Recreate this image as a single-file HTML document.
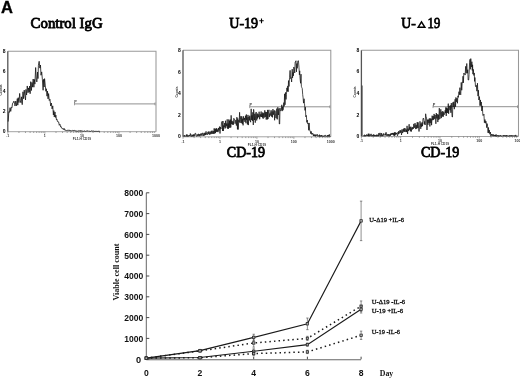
<!DOCTYPE html>
<html><head><meta charset="utf-8"><style>
html,body{margin:0;padding:0;background:#fff;width:520px;height:379px;overflow:hidden}
svg{display:block;font-family:"Liberation Serif",serif;will-change:transform}
</style></head><body>
<svg width="520" height="379" viewBox="0 0 520 379">
<rect width="520" height="379" fill="#fff"/>
<path d="M7.8,51.2 H156.0 V131.7" stroke="#999" stroke-width="1.05" fill="none"/>
<path d="M7.8,131.7 H156.0" stroke="#999" stroke-width="0.9" fill="none"/>
<path d="M7.8,51.2 V131.7" stroke="#555" stroke-width="1.3" fill="none"/>
<path d="M7.80,131.7 v2.0 M18.95,131.7 v1.3 M25.48,131.7 v1.3 M30.11,131.7 v1.3 M33.70,131.7 v1.3 M36.63,131.7 v1.3 M39.11,131.7 v1.3 M41.26,131.7 v1.3 M43.15,131.7 v1.3 M44.85,131.7 v2.0 M56.00,131.7 v1.3 M62.53,131.7 v1.3 M67.16,131.7 v1.3 M70.75,131.7 v1.3 M73.68,131.7 v1.3 M76.16,131.7 v1.3 M78.31,131.7 v1.3 M80.20,131.7 v1.3 M81.90,131.7 v2.0 M93.05,131.7 v1.3 M99.58,131.7 v1.3 M104.21,131.7 v1.3 M107.80,131.7 v1.3 M110.73,131.7 v1.3 M113.21,131.7 v1.3 M115.36,131.7 v1.3 M117.25,131.7 v1.3 M118.95,131.7 v2.0 M130.10,131.7 v1.3 M136.63,131.7 v1.3 M141.26,131.7 v1.3 M144.85,131.7 v1.3 M147.78,131.7 v1.3 M150.26,131.7 v1.3 M152.41,131.7 v1.3 M154.30,131.7 v1.3" stroke="#666" stroke-width="0.6" fill="none"/>
<text x="7.80" y="136.90" font-family="Liberation Sans" font-weight="bold" font-size="3.6" text-anchor="middle" fill="#333">.1</text>
<text x="44.85" y="136.90" font-family="Liberation Sans" font-weight="bold" font-size="3.6" text-anchor="middle" fill="#333">1</text>
<text x="81.90" y="136.90" font-family="Liberation Sans" font-weight="bold" font-size="3.6" text-anchor="middle" fill="#333">10</text>
<text x="118.95" y="136.90" font-family="Liberation Sans" font-weight="bold" font-size="3.6" text-anchor="middle" fill="#333">100</text>
<text x="156.00" y="136.90" font-family="Liberation Sans" font-weight="bold" font-size="3.6" text-anchor="middle" fill="#333">1000</text>
<text x="81.90" y="140.00" font-family="Liberation Sans" font-weight="bold" font-size="3.2" text-anchor="middle" fill="#333">FL1-H CD19</text>
<path d="M74.5,103.9 H155.0" stroke="#555" stroke-width="0.65" fill="none"/>
<path d="M74.5,102.5 v2.8 M155.0,102.5 v2.8" stroke="#666" stroke-width="0.6" fill="none"/>
<text x="74.3" y="102.7" font-family="Liberation Sans" font-weight="bold" font-size="3.8" fill="#444">P</text>
<path d="M8.20,121.59 L8.84,111.71 L9.35,112.38 L10.07,107.70 L10.72,111.42 L11.38,107.10 L11.91,107.70 L12.59,103.26 L13.15,102.99 L13.89,101.11 L14.46,102.35 L15.02,106.02 L15.77,101.03 L16.55,105.80 L17.31,98.60 L17.81,105.13 L18.25,97.68 L18.96,102.55 L19.66,93.43 L20.34,100.87 L20.94,102.74 L21.57,96.84 L22.21,104.67 L22.98,91.81 L23.59,98.72 L24.23,90.12 L24.91,95.71 L25.52,99.99 L25.94,89.45 L26.59,94.97 L27.26,85.96 L28.03,92.75 L28.57,87.93 L29.20,92.07 L29.63,86.07 L30.13,93.71 L30.71,81.66 L31.43,90.51 L31.97,82.44 L32.47,87.11 L33.18,79.01 L33.89,87.23 L34.36,79.44 L34.90,84.14 L35.65,67.55 L36.43,81.23 L36.93,81.94 L37.53,72.06 L37.98,78.58 L38.42,65.22 L39.16,61.30 L39.85,68.12 L40.46,64.99 L41.00,75.22 L41.70,71.90 L42.41,79.83 L43.12,90.25 L43.56,79.34 L44.13,86.99 L44.57,78.64 L45.30,85.92 L45.84,91.29 L46.39,88.78 L47.01,96.16 L47.49,91.14 L48.05,98.87 L48.60,93.59 L49.27,100.51 L49.94,99.24 L50.68,106.04 L51.38,103.03 L52.09,108.91 L52.75,105.90 L53.39,114.93 L53.84,110.60 L54.27,116.95 L54.99,111.96 L55.42,117.45 L55.88,115.17 L56.42,119.66 L56.90,119.03 L57.46,121.57 L58.03,121.54 L58.60,121.85 L59.30,125.25 L59.95,124.24 L60.70,126.99 L61.18,126.59 L61.72,127.91 L62.24,128.84 L62.87,128.66 L63.47,129.53 L64.00,128.24 L64.64,130.07 L65.26,129.66 L65.82,130.66 L66.33,130.04 L67.09,130.79 L67.60,130.15 L68.35,130.58 L68.92,129.82 L69.44,130.70 L69.87,130.24 L70.36,130.86 L70.98,130.42 L71.44,131.07 L72.20,130.38 L72.72,131.03 L73.24,130.26 L73.85,130.84 L74.53,130.37 L75.18,131.13 L75.84,130.68 L76.38,131.22 L77.03,130.60 L77.48,131.27 L78.16,130.69 L78.90,131.02 L79.59,130.73 L80.21,131.36 L80.67,130.44 L81.35,131.14 L82.04,130.60 L82.51,131.25 L83.14,130.88 L83.57,131.40 L84.13,131.35 L84.90,130.73 L85.49,131.40 L86.19,130.77 L86.77,131.27 L87.37,130.81 L88.14,131.40 L88.58,130.95 L89.19,131.40 L89.86,131.08 L90.62,131.40 L91.33,130.80 L92.02,131.40 L92.51,131.12 L93.12,131.40 L93.71,130.92 L94.46,131.40 L95.07,131.01 L95.56,131.40 L96.06,131.19 L96.49,131.40 L96.93,131.26 L97.60,131.40 L98.03,130.93 L98.62,131.40 L99.09,131.30 L99.79,131.40" stroke="#111" stroke-width="0.8" fill="none" stroke-linejoin="miter"/>
<text x="5.60" y="133.30" font-family="Liberation Sans" font-weight="bold" font-size="5" text-anchor="end" fill="#000">0</text>
<text x="5.60" y="113.17" font-family="Liberation Sans" font-weight="bold" font-size="5" text-anchor="end" fill="#000">2</text>
<text x="5.60" y="93.05" font-family="Liberation Sans" font-weight="bold" font-size="5" text-anchor="end" fill="#000">4</text>
<text x="5.60" y="72.92" font-family="Liberation Sans" font-weight="bold" font-size="5" text-anchor="end" fill="#000">6</text>
<text x="5.60" y="52.80" font-family="Liberation Sans" font-weight="bold" font-size="5" text-anchor="end" fill="#000">8</text>
<text transform="translate(2.30,95.45) rotate(-90)" font-family="Liberation Sans" font-weight="bold" font-size="3.2" fill="#444">Counts</text>
<path d="M183.0,50.3 H330.8 V136.8" stroke="#999" stroke-width="1.05" fill="none"/>
<path d="M183.0,136.8 H330.8" stroke="#999" stroke-width="0.9" fill="none"/>
<path d="M183.0,50.3 V136.8" stroke="#555" stroke-width="1.3" fill="none"/>
<path d="M183.00,136.8 v2.0 M194.12,136.8 v1.3 M200.63,136.8 v1.3 M205.25,136.8 v1.3 M208.83,136.8 v1.3 M211.75,136.8 v1.3 M214.23,136.8 v1.3 M216.37,136.8 v1.3 M218.26,136.8 v1.3 M219.95,136.8 v2.0 M231.07,136.8 v1.3 M237.58,136.8 v1.3 M242.20,136.8 v1.3 M245.78,136.8 v1.3 M248.70,136.8 v1.3 M251.18,136.8 v1.3 M253.32,136.8 v1.3 M255.21,136.8 v1.3 M256.90,136.8 v2.0 M268.02,136.8 v1.3 M274.53,136.8 v1.3 M279.15,136.8 v1.3 M282.73,136.8 v1.3 M285.65,136.8 v1.3 M288.13,136.8 v1.3 M290.27,136.8 v1.3 M292.16,136.8 v1.3 M293.85,136.8 v2.0 M304.97,136.8 v1.3 M311.48,136.8 v1.3 M316.10,136.8 v1.3 M319.68,136.8 v1.3 M322.60,136.8 v1.3 M325.08,136.8 v1.3 M327.22,136.8 v1.3 M329.11,136.8 v1.3" stroke="#666" stroke-width="0.6" fill="none"/>
<text x="183.00" y="142.50" font-family="Liberation Sans" font-weight="bold" font-size="3.6" text-anchor="middle" fill="#333">.1</text>
<text x="219.95" y="142.50" font-family="Liberation Sans" font-weight="bold" font-size="3.6" text-anchor="middle" fill="#333">1</text>
<text x="256.90" y="142.50" font-family="Liberation Sans" font-weight="bold" font-size="3.6" text-anchor="middle" fill="#333">10</text>
<text x="293.85" y="142.50" font-family="Liberation Sans" font-weight="bold" font-size="3.6" text-anchor="middle" fill="#333">100</text>
<text x="330.80" y="142.50" font-family="Liberation Sans" font-weight="bold" font-size="3.6" text-anchor="middle" fill="#333">1000</text>
<text x="256.90" y="145.60" font-family="Liberation Sans" font-weight="bold" font-size="3.2" text-anchor="middle" fill="#333">FL1-H CD19</text>
<path d="M249.7,106.8 H329.8" stroke="#555" stroke-width="0.65" fill="none"/>
<path d="M249.7,105.39999999999999 v2.8 M329.8,105.39999999999999 v2.8" stroke="#666" stroke-width="0.6" fill="none"/>
<text x="249.5" y="105.6" font-family="Liberation Sans" font-weight="bold" font-size="3.8" fill="#444">P</text>
<path d="M183.70,136.50 L184.27,135.00 L184.71,136.50 L185.06,136.50 L185.53,135.71 L186.09,136.50 L186.44,134.59 L186.81,136.28 L187.21,134.59 L187.58,136.50 L188.13,136.32 L188.49,135.51 L188.80,136.50 L189.34,135.00 L189.84,135.98 L190.36,133.52 L190.83,136.50 L191.20,136.50 L191.61,136.25 L191.95,134.56 L192.28,136.50 L192.84,134.96 L193.24,136.11 L193.59,134.47 L193.92,136.50 L194.30,134.51 L194.73,135.68 L195.18,133.09 L195.66,133.37 L196.21,135.85 L196.75,136.50 L197.26,134.35 L197.62,135.85 L198.10,135.97 L198.49,133.83 L199.02,136.26 L199.54,134.25 L199.99,136.16 L200.56,133.68 L201.02,135.32 L201.55,133.49 L202.04,135.86 L202.59,132.97 L203.16,133.37 L203.70,135.96 L204.21,132.85 L204.68,135.43 L205.20,132.80 L205.56,134.97 L206.06,131.36 L206.39,134.36 L206.76,133.44 L207.24,134.95 L207.56,134.59 L207.90,131.86 L208.38,133.92 L208.85,131.40 L209.39,134.69 L209.86,131.84 L210.34,132.11 L210.69,134.34 L211.17,130.92 L211.55,133.69 L212.12,130.63 L212.70,133.88 L213.28,131.08 L213.63,133.81 L214.16,128.37 L214.73,133.66 L215.08,128.76 L215.53,133.00 L215.87,128.71 L216.28,131.82 L216.69,128.18 L217.07,131.85 L217.54,129.54 L218.01,132.13 L218.57,127.99 L218.94,130.63 L219.48,126.60 L220.00,133.50 L220.45,127.08 L220.99,129.05 L221.51,122.32 L222.10,121.39 L222.59,130.96 L222.98,121.02 L223.34,131.03 L223.68,125.52 L224.23,127.02 L224.70,123.01 L225.03,128.54 L225.49,120.75 L225.87,127.70 L226.33,123.53 L226.84,126.03 L227.18,119.39 L227.56,128.66 L228.09,123.48 L228.44,128.80 L228.79,119.45 L229.14,127.32 L229.55,120.73 L229.90,127.98 L230.33,119.57 L230.80,127.38 L231.13,115.35 L231.65,124.16 L232.13,120.85 L232.48,124.57 L233.04,121.68 L233.40,124.79 L233.72,118.30 L234.22,119.16 L234.57,119.06 L235.08,123.73 L235.46,121.18 L235.87,120.08 L236.38,125.55 L236.88,117.18 L237.46,129.34 L237.78,118.48 L238.19,129.55 L238.76,120.17 L239.18,121.94 L239.58,112.30 L240.03,123.04 L240.43,119.38 L240.91,116.15 L241.37,122.92 L241.85,116.36 L242.29,123.98 L242.69,118.67 L243.09,125.35 L243.52,116.39 L244.02,120.20 L244.44,118.02 L244.96,121.95 L245.48,115.72 L245.97,123.23 L246.36,114.48 L246.69,119.85 L247.08,117.37 L247.41,124.45 L247.98,114.92 L248.39,125.09 L248.90,116.82 L249.41,120.35 L249.75,115.72 L250.19,120.15 L250.64,122.20 L251.18,108.84 L251.65,119.98 L252.02,115.35 L252.44,120.89 L252.82,112.29 L253.30,124.94 L253.62,109.34 L253.99,112.87 L254.54,120.03 L254.86,113.91 L255.28,122.66 L255.72,113.01 L256.26,112.03 L256.72,120.43 L257.22,113.53 L257.55,118.51 L258.06,114.29 L258.57,117.20 L259.14,111.73 L259.66,119.25 L260.22,114.28 L260.64,116.66 L261.13,111.50 L261.55,117.01 L262.06,113.55 L262.45,117.57 L262.81,112.43 L263.15,118.73 L263.66,113.23 L264.22,117.55 L264.79,110.30 L265.27,116.97 L265.76,111.92 L266.21,119.54 L266.75,112.01 L267.25,119.47 L267.62,109.90 L267.96,119.06 L268.50,111.57 L268.98,109.80 L269.35,117.08 L269.87,113.54 L270.28,115.62 L270.78,111.46 L271.12,110.24 L271.46,116.58 L272.03,111.39 L272.53,117.38 L272.93,109.09 L273.36,114.77 L273.75,111.80 L274.21,110.42 L274.62,120.27 L274.94,110.67 L275.40,113.19 L275.83,117.97 L276.33,118.23 L276.77,108.63 L277.25,119.35 L277.80,107.31 L278.39,115.00 L278.91,108.57 L279.29,124.00 L279.68,124.00 L280.01,108.04 L280.38,110.76 L280.86,110.79 L281.43,109.83 L281.81,104.82 L282.17,111.12 L282.51,106.79 L282.92,110.24 L283.30,109.21 L283.82,102.65 L284.13,106.39 L284.61,93.82 L285.03,104.81 L285.52,92.41 L286.03,99.42 L286.43,94.68 L286.86,87.87 L287.43,91.35 L287.78,85.90 L288.15,91.75 L288.51,80.58 L289.03,86.46 L289.52,77.82 L289.90,70.50 L290.27,70.50 L290.58,78.54 L291.13,77.50 L291.64,82.00 L292.21,69.20 L292.55,77.94 L293.06,72.37 L293.41,75.82 L293.72,66.99 L294.16,67.73 L294.73,72.99 L295.16,62.00 L295.51,62.00 L295.98,60.74 L296.44,71.88 L296.87,63.59 L297.22,68.30 L297.60,62.13 L297.95,60.80 L298.43,60.80 L299.01,67.67 L299.40,74.86 L299.73,70.82 L300.06,78.12 L300.59,83.27 L301.02,74.15 L301.36,86.27 L301.80,87.60 L302.26,88.52 L302.70,94.65 L303.13,97.96 L303.54,103.16 L304.08,98.75 L304.52,103.57 L304.97,110.38 L305.41,107.23 L305.78,116.80 L306.37,115.45 L306.80,122.37 L307.30,120.08 L307.72,123.88 L308.24,123.16 L308.68,130.26 L309.09,122.95 L309.67,130.42 L310.18,130.73 L310.72,133.68 L311.22,131.41 L311.73,134.38 L312.18,133.07 L312.72,134.27 L313.07,133.70 L313.45,136.05 L313.93,134.49 L314.43,136.07 L314.86,134.56 L315.34,136.41 L315.67,134.76 L316.00,135.59 L316.44,134.69 L316.89,135.74 L317.38,134.40 L317.92,136.50 L318.29,136.00 L318.70,135.50 L319.13,136.38 L319.49,134.70 L319.87,136.50 L320.19,135.34 L320.74,136.50 L321.30,135.01 L321.79,136.50 L322.16,135.52 L322.68,136.43 L323.10,135.78 L323.45,136.50 L323.79,135.88 L324.33,135.56 L324.69,136.50 L325.13,135.09 L325.61,135.37 L326.05,136.50 L326.58,135.87 L327.08,136.50 L327.48,135.09 L327.98,136.46 L328.46,135.05 L328.92,136.50 L329.31,134.35 L329.70,136.45 L330.09,136.47 L330.43,136.50" stroke="#111" stroke-width="0.75" fill="none" stroke-linejoin="miter"/>
<text x="180.80" y="138.40" font-family="Liberation Sans" font-weight="bold" font-size="5" text-anchor="end" fill="#000">0</text>
<text x="180.80" y="116.78" font-family="Liberation Sans" font-weight="bold" font-size="5" text-anchor="end" fill="#000">2</text>
<text x="180.80" y="95.15" font-family="Liberation Sans" font-weight="bold" font-size="5" text-anchor="end" fill="#000">4</text>
<text x="180.80" y="73.52" font-family="Liberation Sans" font-weight="bold" font-size="5" text-anchor="end" fill="#000">6</text>
<text x="180.80" y="51.90" font-family="Liberation Sans" font-weight="bold" font-size="5" text-anchor="end" fill="#000">8</text>
<text transform="translate(177.50,97.55) rotate(-90)" font-family="Liberation Sans" font-weight="bold" font-size="3.2" fill="#444">Counts</text>
<path d="M361.4,50.3 H518.5 V136.5" stroke="#999" stroke-width="1.05" fill="none"/>
<path d="M361.4,136.5 H518.5" stroke="#999" stroke-width="0.9" fill="none"/>
<path d="M361.4,50.3 V136.5" stroke="#555" stroke-width="1.3" fill="none"/>
<path d="M361.40,136.5 v2.0 M373.22,136.5 v1.3 M380.14,136.5 v1.3 M385.05,136.5 v1.3 M388.85,136.5 v1.3 M391.96,136.5 v1.3 M394.59,136.5 v1.3 M396.87,136.5 v1.3 M398.88,136.5 v1.3 M400.67,136.5 v2.0 M412.50,136.5 v1.3 M419.41,136.5 v1.3 M424.32,136.5 v1.3 M428.13,136.5 v1.3 M431.24,136.5 v1.3 M433.87,136.5 v1.3 M436.14,136.5 v1.3 M438.15,136.5 v1.3 M439.95,136.5 v2.0 M451.77,136.5 v1.3 M458.69,136.5 v1.3 M463.60,136.5 v1.3 M467.40,136.5 v1.3 M470.51,136.5 v1.3 M473.14,136.5 v1.3 M475.42,136.5 v1.3 M477.43,136.5 v1.3 M479.23,136.5 v2.0 M491.05,136.5 v1.3 M497.96,136.5 v1.3 M502.87,136.5 v1.3 M506.68,136.5 v1.3 M509.79,136.5 v1.3 M512.42,136.5 v1.3 M514.69,136.5 v1.3 M516.70,136.5 v1.3" stroke="#666" stroke-width="0.6" fill="none"/>
<text x="361.40" y="142.20" font-family="Liberation Sans" font-weight="bold" font-size="3.6" text-anchor="middle" fill="#333">.1</text>
<text x="400.67" y="142.20" font-family="Liberation Sans" font-weight="bold" font-size="3.6" text-anchor="middle" fill="#333">1</text>
<text x="439.95" y="142.20" font-family="Liberation Sans" font-weight="bold" font-size="3.6" text-anchor="middle" fill="#333">10</text>
<text x="479.23" y="142.20" font-family="Liberation Sans" font-weight="bold" font-size="3.6" text-anchor="middle" fill="#333">100</text>
<text x="518.50" y="142.20" font-family="Liberation Sans" font-weight="bold" font-size="3.6" text-anchor="middle" fill="#333">1000</text>
<text x="439.95" y="145.30" font-family="Liberation Sans" font-weight="bold" font-size="3.2" text-anchor="middle" fill="#333">FL1-H CD19</text>
<path d="M433.0,106.7 H517.5" stroke="#555" stroke-width="0.65" fill="none"/>
<path d="M433.0,105.3 v2.8 M517.5,105.3 v2.8" stroke="#666" stroke-width="0.6" fill="none"/>
<text x="432.8" y="105.5" font-family="Liberation Sans" font-weight="bold" font-size="3.8" fill="#444">P</text>
<path d="M363.20,136.20 L363.75,135.49 L364.09,136.20 L364.50,134.73 L364.86,136.20 L365.33,136.20 L365.68,135.14 L366.11,135.91 L366.50,134.56 L367.05,135.86 L367.37,134.95 L367.85,135.91 L368.22,133.75 L368.55,136.20 L368.98,133.69 L369.46,136.20 L369.81,135.06 L370.16,134.57 L370.64,135.76 L371.11,133.85 L371.59,136.19 L372.06,135.70 L372.49,135.05 L372.83,136.20 L373.35,134.36 L373.74,136.20 L374.31,134.79 L374.73,136.20 L375.11,135.16 L375.68,136.20 L376.01,134.96 L376.59,136.20 L376.93,134.54 L377.36,136.20 L377.92,134.95 L378.47,136.20 L378.83,133.13 L379.15,135.73 L379.57,134.91 L380.03,132.86 L380.49,136.08 L380.83,136.20 L381.34,133.04 L381.78,136.20 L382.34,134.65 L382.82,136.20 L383.32,133.42 L383.68,135.34 L384.14,134.76 L384.67,135.20 L385.25,133.48 L385.66,135.42 L386.03,132.28 L386.45,133.68 L386.86,135.86 L387.32,134.31 L387.64,134.40 L388.02,136.07 L388.35,134.13 L388.93,135.94 L389.48,136.09 L389.88,134.04 L390.29,135.91 L390.68,133.59 L391.11,134.88 L391.47,133.29 L391.97,134.66 L392.40,132.98 L392.92,134.59 L393.24,132.86 L393.64,135.41 L394.15,133.06 L394.46,135.76 L394.81,132.06 L395.23,135.26 L395.73,132.58 L396.15,133.96 L396.62,132.97 L397.06,134.95 L397.58,135.84 L397.96,132.13 L398.43,134.15 L398.80,131.02 L399.15,133.35 L399.52,133.23 L400.07,130.11 L400.52,132.67 L400.96,130.47 L401.52,134.95 L402.04,129.36 L402.61,133.06 L402.97,131.94 L403.34,129.13 L403.74,131.67 L404.17,128.06 L404.64,131.77 L405.12,128.39 L405.47,129.32 L405.86,132.05 L406.35,129.64 L406.73,132.10 L407.05,125.86 L407.60,133.95 L408.00,128.65 L408.56,130.92 L409.13,124.22 L409.45,129.68 L409.87,126.96 L410.37,131.29 L410.84,126.67 L411.33,131.56 L411.89,127.62 L412.33,129.45 L412.85,126.98 L413.34,128.86 L413.68,123.91 L414.04,124.68 L414.47,127.76 L415.04,123.08 L415.40,126.04 L415.75,129.12 L416.17,124.85 L416.72,128.61 L417.24,122.15 L417.73,128.06 L418.13,122.42 L418.60,128.32 L419.03,131.50 L419.47,127.82 L419.96,121.31 L420.43,123.73 L420.77,128.83 L421.13,123.41 L421.56,126.75 L422.09,122.31 L422.49,126.17 L422.99,118.84 L423.52,118.00 L423.95,120.26 L424.27,124.25 L424.74,121.43 L425.14,124.99 L425.65,113.79 L426.17,117.50 L426.54,117.50 L426.99,130.00 L427.38,119.61 L427.96,124.77 L428.44,119.61 L428.97,122.95 L429.32,118.40 L429.89,126.44 L430.30,118.44 L430.87,123.07 L431.23,118.65 L431.59,125.17 L432.14,115.70 L432.70,120.18 L433.18,116.04 L433.67,119.82 L434.08,113.94 L434.57,118.79 L435.09,114.97 L435.48,116.25 L435.86,123.80 L436.30,113.05 L436.81,118.46 L437.27,114.22 L437.83,122.05 L438.37,114.66 L438.78,119.84 L439.30,108.17 L439.82,118.93 L440.29,116.56 L440.80,109.30 L441.31,118.10 L441.82,111.75 L442.40,116.48 L442.84,111.06 L443.25,116.71 L443.78,112.12 L444.13,114.77 L444.71,114.18 L445.16,110.30 L445.49,113.02 L445.82,107.37 L446.23,115.95 L446.60,107.75 L446.93,113.04 L447.49,108.49 L447.82,112.96 L448.27,103.63 L448.63,113.76 L449.10,105.91 L449.61,107.13 L449.97,110.19 L450.39,105.35 L450.89,112.78 L451.31,103.11 L451.66,109.41 L452.10,117.00 L452.50,117.00 L452.83,102.48 L453.20,107.01 L453.77,101.79 L454.33,109.16 L454.68,103.33 L455.13,99.25 L455.55,106.74 L455.88,97.44 L456.41,101.81 L456.96,98.19 L457.44,103.26 L457.90,95.85 L458.39,97.35 L458.94,91.70 L459.43,94.80 L459.89,87.66 L460.40,93.83 L460.76,94.83 L461.23,82.48 L461.74,90.24 L462.26,81.96 L462.67,82.50 L462.99,76.24 L463.37,82.85 L463.84,73.02 L464.36,74.00 L464.84,74.00 L465.17,75.06 L465.63,66.35 L466.20,73.29 L466.78,63.50 L467.32,73.22 L467.77,69.72 L468.15,80.00 L468.69,80.00 L469.07,74.41 L469.59,62.66 L469.99,59.36 L470.32,69.30 L470.79,58.60 L471.37,67.04 L471.89,61.72 L472.26,70.42 L472.59,64.77 L472.95,74.13 L473.30,69.38 L473.88,75.46 L474.26,72.99 L474.59,81.39 L474.93,77.55 L475.48,86.39 L476.03,86.78 L476.34,85.32 L476.90,91.19 L477.46,83.20 L477.99,96.10 L478.40,90.22 L478.86,100.01 L479.43,96.62 L479.99,105.69 L480.46,99.95 L480.85,105.61 L481.28,102.00 L481.80,110.97 L482.30,105.88 L482.88,115.50 L483.37,115.35 L483.92,114.11 L484.40,122.70 L484.97,119.55 L485.40,123.23 L485.77,121.03 L486.26,122.23 L486.66,127.64 L487.14,123.61 L487.58,126.61 L488.08,132.85 L488.49,127.53 L488.87,133.09 L489.30,130.10 L489.89,134.28 L490.42,132.08 L490.83,136.20 L491.18,135.00 L491.73,134.06 L492.11,135.82 L492.66,134.46 L493.20,136.20 L493.63,134.53 L494.18,135.99 L494.52,135.09 L494.94,136.20 L495.33,134.91 L495.66,136.20 L496.11,134.43 L496.49,136.20 L497.07,136.20 L497.42,135.14 L498.00,136.20 L498.53,136.20 L498.86,135.10 L499.21,136.20 L499.59,135.93 L500.14,136.20 L500.60,135.15 L500.95,136.20 L501.44,135.96 L501.93,136.20 L502.45,135.68 L502.89,136.20 L503.41,135.15 L503.85,136.20 L504.38,135.15 L504.90,136.20 L505.43,136.20 L505.80,135.11 L506.33,136.20 L506.65,135.22 L507.05,136.20 L507.44,135.55 L507.88,136.20 L508.38,135.98 L508.88,136.20 L509.24,135.47 L509.57,136.20 L509.97,135.31 L510.53,136.20 L511.04,135.18 L511.50,136.20 L511.89,135.32 L512.22,136.20 L512.69,135.53 L513.17,136.20 L513.63,135.54 L514.18,136.20 L514.51,135.53 L514.87,136.20 L515.27,136.20 L515.65,134.91 L515.99,136.20 L516.41,135.93 L516.92,136.20 L517.30,135.95 L517.65,136.20" stroke="#111" stroke-width="0.75" fill="none" stroke-linejoin="miter"/>
<text x="359.20" y="138.10" font-family="Liberation Sans" font-weight="bold" font-size="5" text-anchor="end" fill="#000">0</text>
<text x="359.20" y="116.55" font-family="Liberation Sans" font-weight="bold" font-size="5" text-anchor="end" fill="#000">2</text>
<text x="359.20" y="95.00" font-family="Liberation Sans" font-weight="bold" font-size="5" text-anchor="end" fill="#000">4</text>
<text x="359.20" y="73.45" font-family="Liberation Sans" font-weight="bold" font-size="5" text-anchor="end" fill="#000">6</text>
<text x="359.20" y="51.90" font-family="Liberation Sans" font-weight="bold" font-size="5" text-anchor="end" fill="#000">8</text>
<text transform="translate(355.90,97.40) rotate(-90)" font-family="Liberation Sans" font-weight="bold" font-size="3.2" fill="#444">Counts</text>
<path d="M362.1,136 V85.5" stroke="#333" stroke-width="0.9" fill="none"/>
<path d="M146.3,192.79999999999998 V359.8" stroke="#666" stroke-width="1" fill="none"/>
<path d="M146.3,359.8 H361.1" stroke="#666" stroke-width="1.1" fill="none"/>
<text x="141.2" y="363.20" font-family="Liberation Sans" font-weight="bold" font-size="9.2" text-anchor="end" fill="#111">0</text>
<text x="124.3" y="341.70" font-family="Liberation Sans" font-weight="bold" font-size="9.2" textLength="19" lengthAdjust="spacingAndGlyphs" fill="#111">1000</text>
<text x="124.3" y="320.90" font-family="Liberation Sans" font-weight="bold" font-size="9.2" textLength="19" lengthAdjust="spacingAndGlyphs" fill="#111">2000</text>
<text x="124.3" y="300.10" font-family="Liberation Sans" font-weight="bold" font-size="9.2" textLength="19" lengthAdjust="spacingAndGlyphs" fill="#111">3000</text>
<text x="124.3" y="279.30" font-family="Liberation Sans" font-weight="bold" font-size="9.2" textLength="19" lengthAdjust="spacingAndGlyphs" fill="#111">4000</text>
<text x="124.3" y="258.50" font-family="Liberation Sans" font-weight="bold" font-size="9.2" textLength="19" lengthAdjust="spacingAndGlyphs" fill="#111">5000</text>
<text x="124.3" y="237.70" font-family="Liberation Sans" font-weight="bold" font-size="9.2" textLength="19" lengthAdjust="spacingAndGlyphs" fill="#111">6000</text>
<text x="124.3" y="216.90" font-family="Liberation Sans" font-weight="bold" font-size="9.2" textLength="19" lengthAdjust="spacingAndGlyphs" fill="#111">7000</text>
<text x="124.3" y="196.10" font-family="Liberation Sans" font-weight="bold" font-size="9.2" textLength="19" lengthAdjust="spacingAndGlyphs" fill="#111">8000</text>
<path d="M146.3,359.20 h3 M146.3,338.40 h3 M146.3,317.60 h3 M146.3,296.80 h3 M146.3,276.00 h3 M146.3,255.20 h3 M146.3,234.40 h3 M146.3,213.60 h3 M146.3,192.80 h3" stroke="#333" stroke-width="0.9" fill="none"/>
<text x="146.30" y="375.6" font-family="Liberation Sans" font-weight="bold" font-size="8.6" text-anchor="middle" fill="#111">0</text>
<text x="200.00" y="375.6" font-family="Liberation Sans" font-weight="bold" font-size="8.6" text-anchor="middle" fill="#111">2</text>
<text x="253.70" y="375.6" font-family="Liberation Sans" font-weight="bold" font-size="8.6" text-anchor="middle" fill="#111">4</text>
<text x="307.40" y="375.6" font-family="Liberation Sans" font-weight="bold" font-size="8.6" text-anchor="middle" fill="#111">6</text>
<text x="361.10" y="375.6" font-family="Liberation Sans" font-weight="bold" font-size="8.6" text-anchor="middle" fill="#111">8</text>
<path d="M146.30,359.2 v-2.5 M200.00,359.2 v-2.5 M253.70,359.2 v-2.5 M307.40,359.2 v-2.5 M361.10,359.2 v-2.5" stroke="#333" stroke-width="0.9" fill="none"/>
<polyline points="146.30,358.16 200.00,350.67 253.70,337.36 307.40,323.84 361.10,220.88" stroke="#1a1a1a" stroke-width="1.15" fill="none"/>
<rect x="145.10" y="356.96" width="2.4" height="2.4" stroke="#222" stroke-width="0.7" fill="#aaa"/>
<path d="M200.00,349.42 V351.92 M198.80,349.42 h2.4 M198.80,351.92 h2.4" stroke="#444" stroke-width="0.6" fill="none"/>
<rect x="198.80" y="349.47" width="2.4" height="2.4" stroke="#222" stroke-width="0.7" fill="#aaa"/>
<path d="M253.70,334.24 V340.48 M252.50,334.24 h2.4 M252.50,340.48 h2.4" stroke="#444" stroke-width="0.6" fill="none"/>
<rect x="252.50" y="336.16" width="2.4" height="2.4" stroke="#222" stroke-width="0.7" fill="#aaa"/>
<path d="M307.40,318.02 V329.66 M306.20,318.02 h2.4 M306.20,329.66 h2.4" stroke="#444" stroke-width="0.6" fill="none"/>
<rect x="306.20" y="322.64" width="2.4" height="2.4" stroke="#222" stroke-width="0.7" fill="#aaa"/>
<path d="M361.10,201.12 V240.64 M359.90,201.12 h2.4 M359.90,240.64 h2.4" stroke="#444" stroke-width="0.6" fill="none"/>
<rect x="359.90" y="219.68" width="2.4" height="2.4" stroke="#222" stroke-width="0.7" fill="#aaa"/>
<polyline points="146.30,358.16 200.00,350.88 253.70,342.98 307.40,338.40 361.10,306.16" stroke="#1a1a1a" stroke-width="1.5" stroke-dasharray="1.5 3.1" fill="none"/>
<rect x="145.10" y="356.96" width="2.4" height="2.4" stroke="#222" stroke-width="0.7" fill="#aaa"/>
<path d="M200.00,350.05 V351.71 M198.80,350.05 h2.4 M198.80,351.71 h2.4" stroke="#444" stroke-width="0.6" fill="none"/>
<rect x="198.80" y="349.68" width="2.4" height="2.4" stroke="#222" stroke-width="0.7" fill="#aaa"/>
<path d="M253.70,338.82 V347.14 M252.50,338.82 h2.4 M252.50,347.14 h2.4" stroke="#444" stroke-width="0.6" fill="none"/>
<rect x="252.50" y="341.78" width="2.4" height="2.4" stroke="#222" stroke-width="0.7" fill="#aaa"/>
<path d="M307.40,336.32 V340.48 M306.20,336.32 h2.4 M306.20,340.48 h2.4" stroke="#444" stroke-width="0.6" fill="none"/>
<rect x="306.20" y="337.20" width="2.4" height="2.4" stroke="#222" stroke-width="0.7" fill="#aaa"/>
<path d="M361.10,300.96 V311.36 M359.90,300.96 h2.4 M359.90,311.36 h2.4" stroke="#444" stroke-width="0.6" fill="none"/>
<rect x="359.90" y="304.96" width="2.4" height="2.4" stroke="#222" stroke-width="0.7" fill="#aaa"/>
<polyline points="146.30,358.16 200.00,357.54 253.70,351.30 307.40,344.64 361.10,309.28" stroke="#1a1a1a" stroke-width="1.15" fill="none"/>
<rect x="145.10" y="356.96" width="2.4" height="2.4" stroke="#222" stroke-width="0.7" fill="#aaa"/>
<path d="M200.00,357.12 V357.95 M198.80,357.12 h2.4 M198.80,357.95 h2.4" stroke="#444" stroke-width="0.6" fill="none"/>
<rect x="198.80" y="356.34" width="2.4" height="2.4" stroke="#222" stroke-width="0.7" fill="#aaa"/>
<path d="M253.70,348.80 V353.79 M252.50,348.80 h2.4 M252.50,353.79 h2.4" stroke="#444" stroke-width="0.6" fill="none"/>
<rect x="252.50" y="350.10" width="2.4" height="2.4" stroke="#222" stroke-width="0.7" fill="#aaa"/>
<path d="M307.40,342.98 V346.30 M306.20,342.98 h2.4 M306.20,346.30 h2.4" stroke="#444" stroke-width="0.6" fill="none"/>
<rect x="306.20" y="343.44" width="2.4" height="2.4" stroke="#222" stroke-width="0.7" fill="#aaa"/>
<path d="M361.10,305.54 V313.02 M359.90,305.54 h2.4 M359.90,313.02 h2.4" stroke="#444" stroke-width="0.6" fill="none"/>
<rect x="359.90" y="308.08" width="2.4" height="2.4" stroke="#222" stroke-width="0.7" fill="#aaa"/>
<polyline points="146.30,358.16 200.00,357.74 253.70,353.58 307.40,351.92 361.10,335.28" stroke="#1a1a1a" stroke-width="1.5" stroke-dasharray="1.5 3.1" fill="none"/>
<rect x="145.10" y="356.96" width="2.4" height="2.4" stroke="#222" stroke-width="0.7" fill="#aaa"/>
<path d="M200.00,357.33 V358.16 M198.80,357.33 h2.4 M198.80,358.16 h2.4" stroke="#444" stroke-width="0.6" fill="none"/>
<rect x="198.80" y="356.54" width="2.4" height="2.4" stroke="#222" stroke-width="0.7" fill="#aaa"/>
<path d="M253.70,351.50 V355.66 M252.50,351.50 h2.4 M252.50,355.66 h2.4" stroke="#444" stroke-width="0.6" fill="none"/>
<rect x="252.50" y="352.38" width="2.4" height="2.4" stroke="#222" stroke-width="0.7" fill="#aaa"/>
<path d="M307.40,350.26 V353.58 M306.20,350.26 h2.4 M306.20,353.58 h2.4" stroke="#444" stroke-width="0.6" fill="none"/>
<rect x="306.20" y="350.72" width="2.4" height="2.4" stroke="#222" stroke-width="0.7" fill="#aaa"/>
<path d="M361.10,331.12 V339.44 M359.90,331.12 h2.4 M359.90,339.44 h2.4" stroke="#444" stroke-width="0.6" fill="none"/>
<rect x="359.90" y="334.08" width="2.4" height="2.4" stroke="#222" stroke-width="0.7" fill="#aaa"/>
<text x="369.3" y="221.6" font-family="Liberation Serif" font-size="6.6" textLength="34.6" lengthAdjust="spacingAndGlyphs" fill="#111" stroke="#111" stroke-width="0.3">U-Δ19 +IL-6</text>
<text x="371.7" y="303.5" font-family="Liberation Serif" font-size="6.6" textLength="33.5" lengthAdjust="spacingAndGlyphs" fill="#111" stroke="#111" stroke-width="0.3">U-Δ19 -IL-6</text>
<text x="371.7" y="313.4" font-family="Liberation Serif" font-size="6.6" textLength="31.4" lengthAdjust="spacingAndGlyphs" fill="#111" stroke="#111" stroke-width="0.3">U-19 +IL-6</text>
<text x="371.7" y="334.0" font-family="Liberation Serif" font-size="6.6" textLength="28.3" lengthAdjust="spacingAndGlyphs" fill="#111" stroke="#111" stroke-width="0.3">U-19 -IL-6</text>
<text x="379.8" y="375.9" font-family="Liberation Serif" font-weight="bold" font-size="7.8" fill="#111">Day</text>
<text transform="translate(119.3,300.6) rotate(-90)" x="0" y="0" font-family="Liberation Serif" font-weight="bold" font-size="9" textLength="57" lengthAdjust="spacingAndGlyphs" fill="#111">Viable cell count</text>
<text x="0.9" y="12.6" font-family="Liberation Sans" font-weight="bold" font-size="16.5" fill="#000" stroke="#000" stroke-width="0.35">A</text>
<text x="30.6" y="27.5" font-family="Liberation Serif" font-weight="normal" stroke="#000" stroke-width="0.8" fill="#000" font-size="14.3" textLength="72" lengthAdjust="spacingAndGlyphs">Control IgG</text>
<text x="229.3" y="27.8" font-family="Liberation Serif" font-weight="normal" stroke="#000" stroke-width="0.8" fill="#000" font-size="14.3" textLength="28.8" lengthAdjust="spacingAndGlyphs">U-19</text>
<path d="M259.3,20.8 H263.7 M261.5,18.4 V23.2" stroke="#000" stroke-width="1.1" fill="none"/>
<text x="401.3" y="28" font-family="Liberation Serif" font-weight="normal" stroke="#000" stroke-width="0.8" fill="#000" font-size="14.3" textLength="14.4" lengthAdjust="spacingAndGlyphs">U-</text>
<path d="M418.1,27.3 L421.5,21.8 L424.9,27.3 Z" stroke="#000" stroke-width="1.45" fill="none" stroke-linejoin="miter"/>
<text x="427.6" y="28" font-family="Liberation Serif" font-weight="normal" stroke="#000" stroke-width="0.8" fill="#000" font-size="14.3" textLength="12.6" lengthAdjust="spacingAndGlyphs">19</text>
<text x="226.8" y="156.8" font-family="Liberation Serif" font-weight="normal" stroke="#000" stroke-width="0.8" fill="#000" font-size="14.3" textLength="38.2" lengthAdjust="spacingAndGlyphs">CD-19</text>
<text x="421" y="157.1" font-family="Liberation Serif" font-weight="normal" stroke="#000" stroke-width="0.8" fill="#000" font-size="14.3" textLength="38.2" lengthAdjust="spacingAndGlyphs">CD-19</text>
</svg>
</body></html>
